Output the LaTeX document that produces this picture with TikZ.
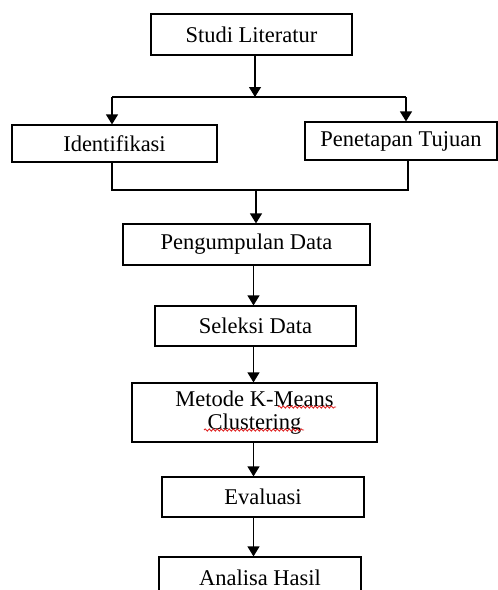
\documentclass[tikz,border=0pt]{standalone}
\usepackage{fontspec}
\setmainfont{Liberation Serif}
\usepackage{tikz}
\usetikzlibrary{arrows.meta,calc,positioning,decorations.pathmorphing}
\definecolor{spellred}{HTML}{E02828}

\begin{document}
\begin{tikzpicture}[x=1pt,y=-1pt,
    box/.style={draw, line width=1.2pt, inner sep=0pt, align=center,
        font=\fontsize{22.5}{23}\selectfont},
    link/.style={line width=1.2pt},
    flow/.style={link, -{Triangle[width=12pt,length=10pt]}},
    squiggle/.style={spellred, line width=0.9pt, decorate,
        decoration={snake, amplitude=1.1pt, segment length=4pt}}]
    \useasboundingbox (0,0) rectangle (498,590);
    \clip (0,0) rectangle (498,590);

    \node[box, minimum width=201pt, minimum height=41pt] (studi) at (251.5,34.5) {Studi Literatur};
    \node[box, minimum width=205pt, minimum height=37pt] (ident) at (114.5,143.5) {Identifikasi};
    \node[box, minimum width=192pt, minimum height=38pt] (tujuan) at (401,141) {Penetapan Tujuan};
    \node[box, minimum width=247pt, minimum height=41pt] (kumpul) at (246.5,244.5) {Pengumpulan Data};
    \node[box, minimum width=201pt, minimum height=40pt] (seleksi) at (255.5,326) {Seleksi Data};
    \node[box, minimum width=245pt, minimum height=59pt] (kmeans) at (254.5,412.5) {Metode K-Means\\Clustering};
    \node[box, minimum width=202pt, minimum height=40pt] (evaluasi) at (263,497) {Evaluasi};
    \node[box, minimum width=202pt, minimum height=42pt] (analisa) at (260,578) {Analisa Hasil};

    % split after Studi Literatur
    \coordinate (splitL) at (112,97);
    \coordinate (splitM) at (255,97);
    \coordinate (splitR) at (406,97);
    \draw[flow] (studi.south -| splitM) -- (splitM);
    \draw[link] (splitL) -- (splitR);
    \draw[flow] (splitL) -- (splitL |- ident.north);
    \draw[flow] (splitR) -- (splitR |- tujuan.north);

    % join into Pengumpulan Data
    \coordinate (joinL) at (112,190);
    \coordinate (joinM) at (256,190);
    \coordinate (joinR) at (408,190);
    \draw[link] (joinL |- ident.south) -- (joinL) -- (joinR) -- (joinR |- tujuan.south);
    \draw[flow] (joinM) -- (joinM |- kumpul.north);

    \coordinate (axis) at (253.5,0);
    \draw[flow] (kumpul.south -| axis) -- (seleksi.north -| axis);
    \draw[flow] (seleksi.south -| axis) -- (kmeans.north -| axis);
    \draw[flow] (kmeans.south -| axis) -- (evaluasi.north -| axis);
    \draw[flow] (evaluasi.south -| axis) -- (analisa.north -| axis);

    \draw[squiggle] (278,407) -- (336,407);
    \draw[squiggle] (204,430) -- (304,430);
\end{tikzpicture}
\end{document}
